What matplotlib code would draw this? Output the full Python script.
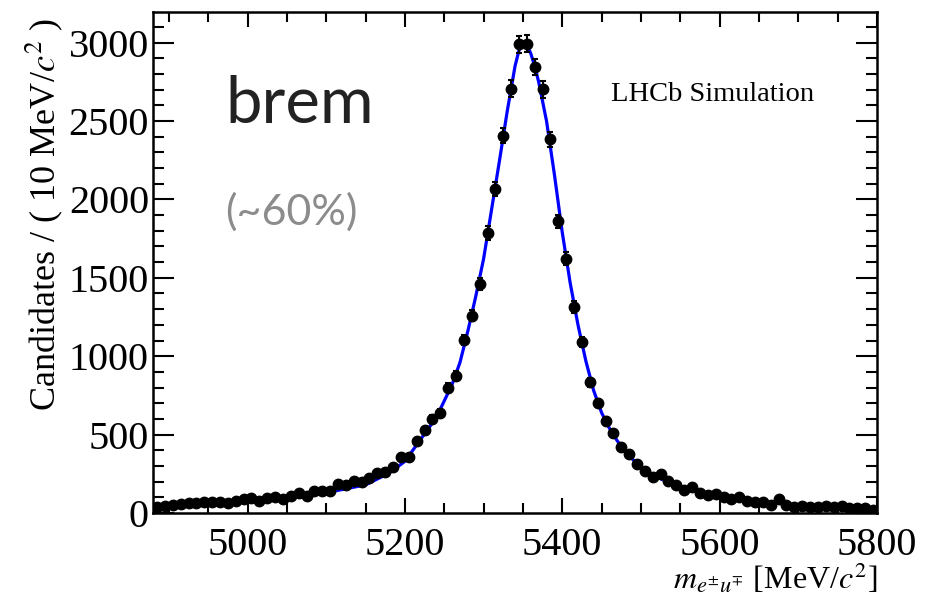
import numpy as np
import matplotlib
matplotlib.use("Agg")
import matplotlib.pyplot as plt
from matplotlib.ticker import MultipleLocator

# bin centres (10 MeV bins from 4880 to 5800)
mass = np.arange(4885, 5800, 10)
counts = [40, 45, 51, 57, 62, 66, 68, 72, 72, 62,
          79, 87, 96, 79, 96, 104, 87, 108, 126, 111,
          140, 142, 142, 183, 179, 204, 196, 225, 253, 264,
          292, 360, 356, 460, 528, 600, 641, 800, 877, 1105,
          1258, 1460, 1786, 2067, 2407, 2706, 2989, 2993, 2844, 2701,
          2382, 1860, 1622, 1313, 1090, 835, 704, 587, 509, 423,
          375, 313, 270, 232, 247, 206, 179, 147, 164, 130,
          113, 119, 104, 87, 100, 79, 68, 68, 51, 87,
          51, 40, 47, 40, 36, 45, 36, 45, 34, 30,
          30, 19]

# fit curve
fit_x = [4880, 4900, 4950, 5000, 5050, 5100, 5150, 5180, 5200, 5220,
         5240, 5260, 5270, 5280, 5290, 5300, 5310, 5320, 5330, 5340,
         5345, 5350, 5355, 5360, 5365, 5370, 5380, 5390, 5400, 5410,
         5420, 5430, 5440, 5450, 5460, 5470, 5480, 5490, 5500, 5520,
         5540, 5560, 5580, 5600, 5650, 5700, 5750, 5800]
fit_y = [38, 45, 60, 75, 97, 130, 180, 255, 330, 470,
         610, 820, 960, 1160, 1380, 1620, 1930, 2240, 2560, 2850,
         2950, 2995, 2990, 2930, 2850, 2750, 2500, 2160, 1790, 1470,
         1200, 970, 780, 640, 540, 460, 395, 340, 295, 230,
         185, 152, 125, 105, 72, 52, 40, 32]

plt.rcParams['font.family'] = ['Liberation Serif', 'DejaVu Serif']
plt.rcParams['mathtext.fontset'] = 'stix'

fig = plt.figure(figsize=(9.28, 5.98), dpi=100)
ax = fig.add_axes([0.165, 0.142, 0.780, 0.838])

ax.plot(fit_x, fit_y, '-', c='blue', lw=2.3, zorder=2)
ax.errorbar(mass, counts, yerr=np.sqrt(counts), fmt='o', c='black',
            markersize=7.5, elinewidth=1.5, capsize=2.5, capthick=1.5, zorder=3)

ax.set_xlim(4880, 5800)
ax.set_ylim(0, 3195)
ax.xaxis.set_major_locator(MultipleLocator(200))
ax.xaxis.set_minor_locator(MultipleLocator(50))
ax.yaxis.set_major_locator(MultipleLocator(500))
ax.yaxis.set_minor_locator(MultipleLocator(100))
ax.tick_params(which='both', direction='in', top=True, right=True, width=1.5)
ax.tick_params(axis='x', which='major', length=11, pad=10, labelsize=29)
ax.tick_params(axis='x', which='minor', length=7)
ax.tick_params(axis='y', which='major', length=15, pad=3, labelsize=29)
ax.tick_params(axis='y', which='minor', length=8)
for s in ax.spines.values():
    s.set_linewidth(1.8)

ax.set_ylabel(r'Candidates / ( 10 MeV/$c^2$ )', fontsize=26, labelpad=2)
ax.yaxis.set_label_coords(-0.122, 0.595)
ax.set_xlabel(r'$m_{e^{\pm}u^{\mp}}$ [MeV/$c^2$]', fontsize=23, loc='right', labelpad=-2)

ax.text(0.100, 0.815, 'brem', transform=ax.transAxes, fontsize=47,
        family='Lato', color='#222222', va='center')
ax.text(0.100, 0.600, '(~60%)', transform=ax.transAxes, fontsize=31,
        family='Lato', color='#8c8c8c', va='center')
ax.text(0.632, 0.835, 'LHCb Simulation', transform=ax.transAxes, fontsize=20.5,
        color='black', va='center')

plt.savefig('out.png', dpi=100)
